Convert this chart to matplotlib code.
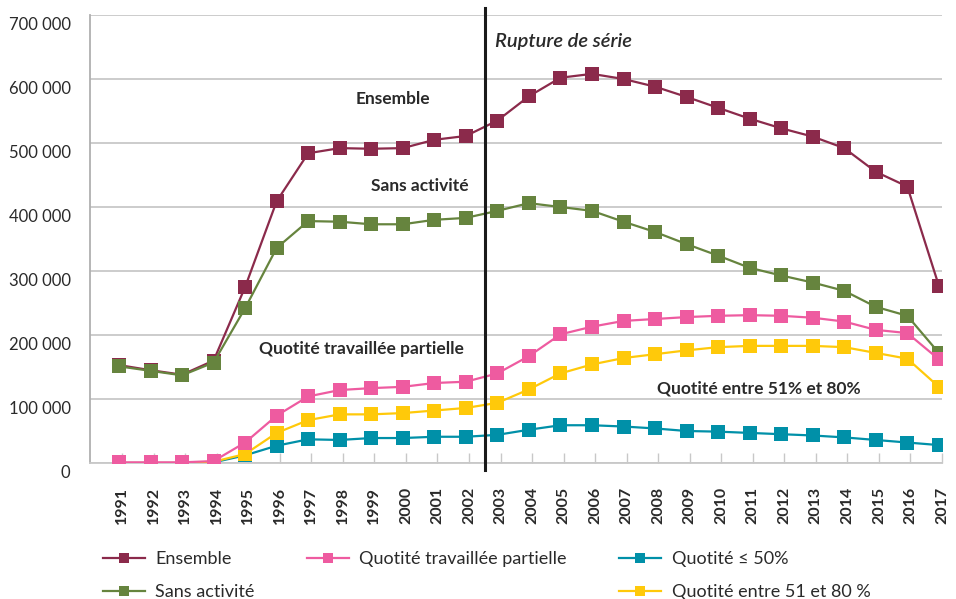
import matplotlib
matplotlib.use("Agg")
import matplotlib.pyplot as plt
import matplotlib.transforms as mtransforms
from matplotlib.lines import Line2D
from matplotlib.ticker import FuncFormatter

plt.rcParams['font.family'] = ['Lato', 'DejaVu Sans']

years = list(range(1991, 2018))
ensemble = [153000, 145000, 138000, 160000, 275000, 409000, 484000, 492000, 491000, 492000,
            505000, 511000, 535000, 573000, 602000, 608000, 600000, 588000, 572000, 555000,
            538000, 523000, 510000, 492000, 455000, 432000, 277000]
sans_activite = [151000, 144000, 137000, 157000, 242000, 336000, 378000, 377000, 373000, 373000,
                 380000, 383000, 394000, 406000, 400000, 394000, 377000, 361000, 342000, 324000,
                 305000, 293000, 282000, 269000, 244000, 230000, 172000]
partielle = [1000, 1000, 1000, 3000, 32000, 74000, 104000, 114000, 117000, 119000,
             125000, 127000, 140000, 167000, 201000, 213000, 222000, 225000, 228000, 230000,
             231000, 230000, 227000, 221000, 208000, 203000, 162000]
quotite_50 = [0, 0, 0, 1000, 12000, 27000, 37000, 36000, 39000, 39000,
              41000, 41000, 44000, 52000, 59000, 59000, 57000, 54000, 50000, 49000,
              47000, 45000, 43000, 40000, 36000, 32000, 28000]
quotite_51_80 = [0, 0, 0, 2000, 14000, 47000, 67000, 76000, 76000, 78000,
                 82000, 86000, 94000, 115000, 140000, 154000, 164000, 170000, 176000, 181000,
                 183000, 183000, 183000, 181000, 172000, 163000, 119000]

series = [
    ("Ensemble", ensemble, "#8B2A4B"),
    ("Sans activité", sans_activite, "#66843E"),
    ("Quotité ≤ 50%", quotite_50, "#0090A8"),
    ("Quotité entre 51 et 80 %", quotite_51_80, "#FFC90A"),
    ("Quotité travaillée partielle", partielle, "#EE5BA0"),
]

fig = plt.figure(figsize=(9.56, 5.99), dpi=100)
ax = fig.add_axes([90/956, 1-463/599, (942-90)/956, (463-15)/599])

handles = {}
for i, (name, vals, col) in enumerate(series):
    ax.plot(years, vals, color=col, lw=1.6, marker='s', markersize=9.5,
            markeredgewidth=0, zorder=3+i)
    handles[name] = Line2D([], [], color=col, lw=1.6, marker='s', markersize=7,
                           markeredgewidth=0)

ax.set_xlim(1990.08, 2017.1)
ax.set_ylim(0, 700000)
ax.set_yticks(range(0, 700001, 100000))
ax.yaxis.set_major_formatter(FuncFormatter(lambda v, p: f"{int(v):,}".replace(",", " ")))
ax.grid(axis='y', color='#C8C8C8', lw=1.3)
ax.set_axisbelow(True)
for s in ['top', 'right']:
    ax.spines[s].set_visible(False)
ax.spines['left'].set_color('#B0B0B0')
ax.spines['bottom'].set_color('#C8C8C8')
ax.spines['left'].set_linewidth(1.3)
ax.spines['bottom'].set_linewidth(1.3)
ax.tick_params(axis='y', length=0, labelsize=12, labelcolor='#2a2a2a', pad=14)
ax.tick_params(axis='x', direction='in', length=7, color='#C8C8C8', width=1,
               labelsize=11.5, labelcolor='#2a2a2a', pad=17, labelrotation=90)
ax.set_xticks([y + 0.1 for y in years])
ax.set_xticklabels([str(y) for y in years], fontweight='bold')
offset = mtransforms.ScaledTranslation(0, -8/100, fig.dpi_scale_trans)
for lbl in ax.get_yticklabels():
    lbl.set_transform(lbl.get_transform() + offset)

ax.axvline(2002.6, ymin=-0.016, ymax=1.016, color='#1a1a1a', lw=2.2, clip_on=False, zorder=10)

txt_kw = dict(fontsize=12.5, fontweight='bold', color='#2a2a2a', ha='center', va='center')
ax.text(1999.69, 569000, "Ensemble", **txt_kw)
ax.text(2000.54, 433000, "Sans activité", **txt_kw)
ax.text(1998.7, 178000, "Quotité travaillée partielle", **txt_kw)
ax.text(2011.3, 116000, "Quotité entre 51% et 80%", **txt_kw)
ax.text(2002.92, 659000, "Rupture de série", fontsize=14.5, fontweight='semibold', style='italic',
        color='#2a2a2a', ha='left', va='center')

blank = Line2D([], [], alpha=0)
leg_handles = [handles["Ensemble"], handles["Sans activité"],
               handles["Quotité travaillée partielle"], blank,
               handles["Quotité ≤ 50%"], handles["Quotité entre 51 et 80 %"]]
leg_labels = ["Ensemble", "Sans activité", "Quotité travaillée partielle", "",
              "Quotité ≤ 50%", "Quotité entre 51 et 80 %"]
fig.legend(leg_handles, leg_labels, ncol=3, loc='upper left', bbox_to_anchor=(103/956, 1-551/599),
           frameon=False, fontsize=13, handlelength=2.3, handletextpad=0.6,
           columnspacing=2.9, labelspacing=0.95, borderaxespad=0, borderpad=0,
           labelcolor='#2a2a2a')

fig.savefig("out.png", dpi=100)
